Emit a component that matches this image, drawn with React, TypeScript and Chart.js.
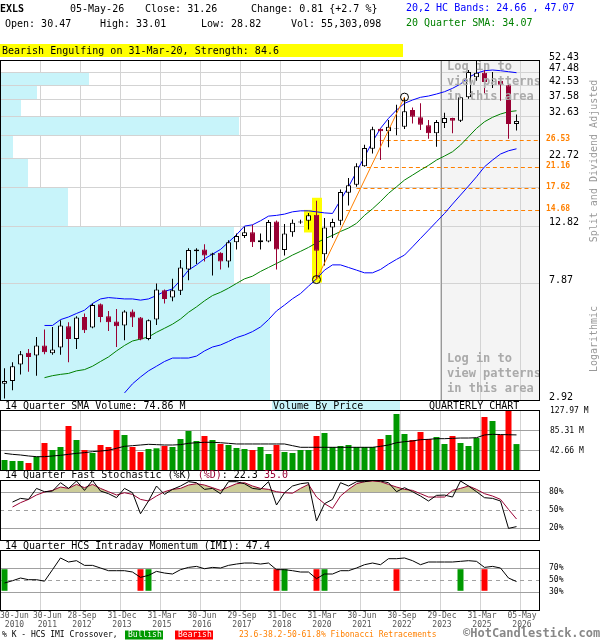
import { useEffect, useRef } from 'react';
import { Chart, registerables } from 'chart.js';

Chart.register(...registerables);

const MONO = '"DejaVu Sans Mono", "Liberation Mono", monospace';
const MAROON = '#990033';
const ORANGE = '#ff8000';
const GRID = '#d3d3d3';
const MIDGRID = '#a0a0a0';
const UP_VOL = '#009900';
const DOWN_VOL = '#ff0000';

// Quarterly bars for EXLS, index 0 = 30-Jun-2010 ... index 64 = 05-May-2026
const qOpen = [
  3.35, 3.43, 3.95, 4.36, 4.26, 4.64, 4.34, 4.56, 5.46, 4.9,
  5.91, 5.4, 6.59, 5.95, 5.69, 5.5, 6.19, 5.88, 4.9, 5.78,
  7.42, 6.97, 7.38, 8.85, 10.32, 10.49, 10.02, 10.19, 9.47, 11.16,
  11.75, 12.15, 11.16, 11.23, 13.31, 10.43, 12.15, 13.2, 13.38, 14.08,
  10.08, 12.65, 13.38, 16.97, 18.17, 21.28, 24.67, 29.24, 28.6, 29.3,
  29.75, 34.28, 32.22, 30.1, 28.12, 30.7, 32.03, 31.3, 38.19, 45.27,
  47.05, 43.9, 44.0, 42.28, 30.47,
];
const qHigh = [
  3.82, 4.02, 4.43, 4.5, 4.99, 5.31, 5.43, 5.75, 5.65, 5.95,
  6.09, 6.63, 6.63, 6.22, 6.33, 6.26, 6.3, 5.91, 5.78, 7.86,
  7.47, 8.17, 9.58, 10.6, 10.6, 10.97, 10.19, 10.25, 11.35, 12.02,
  12.71, 12.93, 12.02, 13.46, 13.4, 13.01, 13.54, 13.5, 14.31, 15.86,
  13.69, 13.61, 17.47, 19.23, 21.79, 25.52, 29.75, 29.3, 31.48, 35.86,
  38.25, 35.0, 36.28, 31.48, 31.48, 33.5, 32.1, 38.4, 48.16, 52.0,
  48.16, 47.35, 44.1, 43.0, 33.01,
];
const qLow = [
  2.96, 3.17, 3.63, 3.71, 3.59, 4.31, 4.29, 4.29, 4.02, 4.5,
  5.16, 5.37, 5.65, 5.25, 4.58, 4.85, 5.43, 4.85, 4.85, 5.52,
  6.63, 6.75, 7.13, 8.08, 9.26, 9.47, 8.41, 8.85, 9.0, 10.49,
  11.55, 10.72, 10.49, 11.16, 8.85, 9.97, 11.68, 13.05, 12.43, 8.12,
  9.16, 11.55, 12.87, 15.25, 17.86, 21.17, 23.72, 22.41, 24.97, 27.65,
  29.2, 30.6, 28.92, 26.86, 25.09, 29.42, 28.12, 30.95, 37.73, 43.97,
  39.5, 41.32, 37.1, 26.86, 28.82,
];
const qClose = [
  3.43, 3.89, 4.31, 4.21, 4.64, 4.38, 4.48, 5.5, 4.9, 5.88,
  5.28, 6.55, 5.91, 5.65, 5.46, 6.19, 5.88, 4.88, 5.75, 7.47,
  6.89, 7.42, 9.0, 10.43, 10.49, 9.97, 10.14, 9.47, 11.16, 11.75,
  12.15, 11.16, 11.35, 13.23, 10.49, 12.02, 13.15, 13.3, 14.01, 10.37,
  12.65, 13.23, 17.08, 18.08, 21.28, 24.82, 29.09, 28.6, 29.75, 29.45,
  33.9, 32.38, 30.25, 28.12, 30.95, 32.03, 31.3, 38.19, 47.35, 47.05,
  43.48, 44.0, 42.5, 30.45, 31.26,
];

// 20,2 HC bands and 20 quarter SMA
const hcUpper = [
  null, null, null, null, null, 5.5, 5.5, 5.78, 5.91, 6.09,
  6.26, 6.63, 6.89, 6.97, 6.93, 6.89, 6.89, 6.82, 6.89, 7.09,
  7.34, 7.5, 8.08, 8.8, 9.2, 9.69, 10.08, 10.49, 11.16, 11.88,
  12.79, 12.93, 13.38, 13.92, 14.01, 14.16, 14.44, 14.56, 14.56, 14.44,
  14.31, 14.24, 15.95, 17.86, 20.29, 23.05, 26.18, 29.33, 31.94, 34.28,
  36.28, 37.32, 38.19, 38.61, 39.27, 40.05, 41.21, 42.75, 45.27, 46.82,
  47.87, 48.16, 47.87, 47.47, 47.07,
];
const hcLower = [
  null, null, null, null, null, null, null, null, null, null,
  null, null, null, null, null, 3.1, 3.35, 3.55, 3.74, 3.89,
  4.05, 4.17, 4.17, 4.17, 4.24, 4.43, 4.58, 4.66, 4.8, 4.96,
  5.07, 5.22, 5.43, 5.78, 6.22, 6.54, 6.9, 7.21, 7.68, 8.17,
  8.8, 9.2, 9.2, 9.0, 8.8, 8.6, 8.6, 8.85, 9.26, 9.64,
  10.0, 10.72, 11.52, 12.36, 13.27, 14.24, 15.42, 16.65, 17.97, 19.44,
  21.17, 22.41, 23.59, 24.25, 24.66,
];
const sma20 = [
  null, null, null, null, null, 3.53, 3.59, 3.63, 3.66, 3.74,
  3.78, 3.89, 4.05, 4.21, 4.43, 4.64, 4.82, 4.9, 4.99, 5.19,
  5.37, 5.56, 5.81, 6.15, 6.44, 6.78, 7.09, 7.29, 7.55, 7.86,
  8.17, 8.36, 8.7, 9.0, 9.31, 9.64, 10.0, 10.32, 10.67, 11.09,
  11.48, 11.82, 12.22, 12.58, 13.09, 14.01, 14.81, 15.77, 16.89, 17.86,
  18.91, 19.72, 20.58, 21.42, 22.41, 23.19, 24.05, 25.45, 27.32, 29.33,
  31.03, 32.22, 33.13, 33.79, 34.07,
];

// volume in millions of shares, with 14 quarter SMA
const volume = [
  21.3, 19.2, 19.2, 14.9, 28.4, 57.6, 42.7, 49.1, 93.9, 64.0,
  42.7, 36.3, 53.3, 49.1, 85.3, 74.7, 49.1, 38.4, 44.8, 46.3,
  51.2, 49.1, 66.1, 83.2, 61.9, 72.5, 64.0, 55.5, 53.3, 46.9,
  44.8, 42.7, 49.1, 34.1, 53.3, 38.4, 36.3, 42.7, 42.7, 72.5,
  78.9, 49.1, 51.2, 53.3, 49.1, 49.1, 49.1, 66.1, 74.7, 119.5,
  76.8, 64.0, 81.1, 66.1, 70.4, 55.5, 72.5, 57.6, 51.2, 68.3,
  113.1, 104.5, 74.7, 127.97, 55.303098,
];
const volSma14 = [
  35.5, 33.4, 32.0, 29.9, 28.4, 28.4, 29.9, 31.3, 33.4, 35.5,
  37.0, 39.1, 40.5, 42.0, 46.3, 50.5, 51.9, 53.3, 54.8, 54.1,
  53.3, 53.3, 54.1, 56.9, 58.2, 59.1, 59.1, 58.2, 56.9, 55.5,
  55.5, 55.5, 55.5, 55.5, 55.5, 55.5, 51.9, 48.4, 48.4, 48.4,
  48.4, 48.4, 48.4, 48.4, 48.4, 48.4, 48.4, 50.5, 53.3, 58.2,
  60.4, 61.9, 64.6, 65.4, 66.8, 66.8, 67.5, 68.2, 68.2, 68.9,
  74.7, 76.1, 75.6, 75.2, 74.86,
];
const volTicks = [42.66, 85.31, 127.97];

// 14 quarter fast stochastic
const stochK = [
  null, 63.3, 69.4, 67.7, 86.0, 80.5, 81.6, 95.5, 86.0, 98.3,
  82.7, 99.3, 81.6, 77.2, 70.5, 86.0, 78.8, 43.8, 65.0, 90.0,
  76.0, 84.4, 90.0, 97.2, 95.5, 84.4, 86.0, 77.2, 97.2, 97.2,
  93.8, 86.0, 84.4, 97.2, 58.3, 78.8, 90.0, 93.8, 95.5, 31.7,
  60.5, 67.7, 95.5, 90.0, 97.2, 97.2, 99.3, 98.3, 95.5, 80.5,
  87.2, 80.5, 73.3, 65.0, 74.4, 74.9, 71.6, 98.3, 90.0, 80.5,
  70.5, 69.4, 65.0, 19.4, 22.3,
];
const stochD = [
  null, 55.0, 62.2, 67.7, 75.0, 80.0, 82.7, 88.3, 86.0, 92.7,
  87.2, 92.7, 86.0, 80.5, 75.0, 78.8, 76.0, 67.7, 65.0, 73.3,
  80.5, 84.4, 86.0, 91.6, 93.8, 91.6, 87.2, 82.7, 88.3, 93.8,
  95.5, 90.0, 86.0, 84.4, 80.5, 78.8, 78.0, 86.0, 92.7, 71.6,
  60.5, 52.7, 73.3, 84.4, 93.8, 97.2, 98.3, 97.2, 92.7, 88.3,
  84.4, 82.7, 77.2, 71.6, 71.6, 71.6, 82.7, 86.0, 90.0, 84.4,
  77.2, 73.3, 67.7, 51.0, 35.0,
];

// 14 quarter HCS intraday momentum
const imi = [
  45.0, 48.8, 53.3, 50.5, 50.5, 48.0, 67.2, 86.7, 80.0, 82.2,
  74.4, 74.4, 70.0, 65.5, 65.5, 65.5, 63.3, 54.4, 57.7, 64.4,
  61.6, 60.0, 67.2, 71.0, 72.7, 68.8, 71.0, 70.0, 74.4, 76.6,
  78.3, 78.3, 76.6, 78.3, 67.2, 67.2, 65.5, 63.3, 63.3, 52.2,
  60.0, 60.0, 65.5, 65.5, 70.0, 75.5, 78.3, 75.5, 85.5, 85.5,
  86.7, 82.2, 75.5, 80.0, 80.0, 80.0, 80.0, 81.1, 82.2, 81.1,
  71.0, 72.7, 70.0, 53.3, 47.4,
];
const bullishIdx = [0, 18, 35, 40, 57];
const bearishIdx = [17, 34, 39, 49, 60];
const signalSpan = [32, 68];

// date axis
const tickIdx = [0, 4, 9, 14, 19, 24, 29, 34, 39, 44, 49, 54, 59, 64];
const tickDay = ['30-Jun', '30-Jun', '28-Sep', '31-Dec', '31-Mar', '30-Jun', '29-Sep',
  '31-Dec', '31-Mar', '30-Jun', '30-Sep', '29-Dec', '31-Mar', '05-May'];
const tickYear = ['2010', '2011', '2012', '2013', '2015', '2016', '2017',
  '2018', '2020', '2021', '2022', '2023', '2025', '2026'];

// price axis (log), volume by price zones between price ticks (bottom to top)
const priceTicks = [2.92, 7.87, 12.82, 17.77, 22.72, 27.67, 32.63, 37.58, 42.53, 47.48, 52.43];
const priceLabels = ['2.92', '7.87', '12.82', '', '22.72', '', '32.63', '37.58', '42.53', '47.48', '52.43'];
const vbpVolume = [272, 236, 68, 28, 13, 241, 21, 37, 90, 0];

// patterns and fibonacci
const patternIdx = [38, 39];
const swingLowIdx = 39;
const swingHighIdx = 50;
const fibLevels = [26.53, 21.16, 17.62, 14.68];
const loginFromIdx = 54.5;

const X_MIN = -0.5625;
const X_MAX = 66.9375;
const GRID_SHIFT = 0.4375;
const last = qClose.length - 1;

const candleUp = qClose.map((c, i) => c >= qOpen[i]);
const pts = (arr: (number | null)[]) => arr.map((v, i) => ({ x: i, y: v }));

function txt(ctx: any, s: string, x: number, y: number, font: string, color: string, align: CanvasTextAlign = 'left') {
  ctx.font = font;
  ctx.fillStyle = color;
  ctx.textAlign = align;
  ctx.textBaseline = 'middle';
  ctx.fillText(s, x, y);
}

function hline(ctx: any, x0: number, x1: number, y: number, color: string, dash: number[] = []) {
  const py = Math.round(y) + 0.5;
  ctx.save();
  ctx.strokeStyle = color;
  ctx.lineWidth = 1;
  ctx.setLineDash(dash);
  ctx.beginPath();
  ctx.moveTo(x0, py);
  ctx.lineTo(x1, py);
  ctx.stroke();
  ctx.restore();
}

function vgrid(chart: any) {
  const { ctx, chartArea: a, scales } = chart;
  ctx.save();
  ctx.strokeStyle = GRID;
  ctx.lineWidth = 1;
  tickIdx.slice(1).forEach((t) => {
    const px = Math.round(scales.x.getPixelForValue(t + GRID_SHIFT)) + 0.5;
    ctx.beginPath();
    ctx.moveTo(px, a.top);
    ctx.lineTo(px, a.bottom);
    ctx.stroke();
  });
  ctx.restore();
}

function frame(chart: any) {
  const { ctx, chartArea: a } = chart;
  ctx.save();
  ctx.strokeStyle = '#000';
  ctx.lineWidth = 1;
  ctx.strokeRect(Math.round(a.left) + 0.5, Math.round(a.top) + 0.5,
    Math.round(a.right - a.left) - 1, Math.round(a.bottom - a.top));
  ctx.restore();
}

function segments(ctx: any, parts: [string, string][], x: number, y: number, font: string) {
  let cx = x;
  parts.forEach(([s, color]) => {
    txt(ctx, s, cx, y, font, color);
    cx += ctx.measureText(s).width;
  });
}

const baseOptions = (padding: any) => ({
  responsive: false,
  animation: false as const,
  events: [],
  layout: { padding: { left: 0, right: 60, ...padding } },
  plugins: { legend: { display: false }, tooltip: { enabled: false } },
});

const xScale = { type: 'linear', min: X_MIN, max: X_MAX, offset: false, grid: { offset: false }, display: false };

const mainPlugin = {
  id: 'mainDecor',
  beforeDatasetsDraw(chart: any) {
    const { ctx, chartArea: a, scales } = chart;
    const { x, y, xv } = scales;
    const lx = Math.round(x.getPixelForValue(loginFromIdx));
    ctx.save();
    ctx.fillStyle = '#f4f4f4';
    ctx.fillRect(lx, a.top, a.right - lx, a.bottom - a.top);
    vgrid(chart);
    priceTicks.forEach((p) => hline(ctx, a.left, a.right, y.getPixelForValue(p), GRID));
    ctx.fillStyle = '#999';
    ctx.fillRect(lx, a.top, 1, a.bottom - a.top);

    // volume by price
    ctx.fillStyle = '#c8f4fa';
    vbpVolume.forEach((v, k) => {
      if (!v) return;
      const yb = Math.round(y.getPixelForValue(priceTicks[k]));
      const yt = Math.round(y.getPixelForValue(priceTicks[k + 1])) + 1;
      ctx.fillRect(a.left, yt, Math.round(xv.getPixelForValue(v) - a.left), yb - yt);
    });

    // pattern highlight
    ctx.fillStyle = '#ffff00';
    patternIdx.forEach((i) => {
      const cx = x.getPixelForValue(i);
      const top = y.getPixelForValue(qHigh[i]) - 3;
      const bot = y.getPixelForValue(qLow[i]) + 3;
      ctx.fillRect(Math.round(cx - 5), top, 10, bot - top);
    });

    // fibonacci retracements from the trend line to the right edge
    const x0 = x.getPixelForValue(swingLowIdx);
    const y0 = y.getPixelForValue(qLow[swingLowIdx]);
    const x1 = x.getPixelForValue(swingHighIdx);
    const y1 = y.getPixelForValue(qHigh[swingHighIdx]);
    fibLevels.forEach((f) => {
      const py = y.getPixelForValue(f);
      const sx = x0 + ((py - y0) / (y1 - y0)) * (x1 - x0) - 4;
      hline(ctx, sx, a.right, py, ORANGE, [4, 3]);
    });
    ctx.restore();
  },
  afterDatasetsDraw(chart: any) {
    const { ctx, chartArea: a, scales } = chart;
    const { x, y } = scales;
    ctx.save();
    const x0 = x.getPixelForValue(swingLowIdx);
    const y0 = y.getPixelForValue(qLow[swingLowIdx]);
    const x1 = x.getPixelForValue(swingHighIdx);
    const y1 = y.getPixelForValue(qHigh[swingHighIdx]);
    ctx.strokeStyle = ORANGE;
    ctx.lineWidth = 1;
    ctx.beginPath();
    ctx.moveTo(x0, y0);
    ctx.lineTo(x1, y1);
    ctx.stroke();
    ctx.strokeStyle = '#000';
    [[x0, y0], [x1, y1]].forEach(([cx, cy]) => {
      ctx.beginPath();
      ctx.arc(cx, cy, 4, 0, Math.PI * 2);
      ctx.stroke();
    });

    const lx = Math.round(x.getPixelForValue(loginFromIdx)) + 6;
    const lines = ['Log in to', 'view patterns', 'in this area'];
    const f = `bold 12px ${MONO}`;
    lines.forEach((s, k) => {
      txt(ctx, s, lx, a.top + 7 + k * 15, f, '#aaaaaa');
      txt(ctx, s, lx, a.bottom - 41 + k * 15, f, '#aaaaaa');
    });
    ctx.restore();
    frame(chart);
  },
  afterDraw(chart: any) {
    const { ctx, chartArea: a, scales } = chart;
    const y = scales.y;
    const f10 = `10px ${MONO}`;
    ctx.save();
    priceTicks.forEach((p, k) => {
      if (priceLabels[k]) txt(ctx, priceLabels[k], a.right + 9, y.getPixelForValue(p) - 3, f10, '#000');
    });
    fibLevels.forEach((p) => txt(ctx, p.toFixed(2), a.right + 6, y.getPixelForValue(p) - 1, `bold 8px ${MONO}`, ORANGE));

    const rot = (s: string, cx: number, cy: number) => {
      ctx.save();
      ctx.translate(cx, cy);
      ctx.rotate(-Math.PI / 2);
      txt(ctx, s, 0, 0, f10, '#999999', 'center');
      ctx.restore();
    };
    rot('Split and Dividend Adjusted', 594, 161);
    rot('Logarithmic', 594, 339);

    // header
    const chg = qClose[last] - qClose[last - 1];
    const pct = (chg / qClose[last - 1]) * 100;
    const sign = chg >= 0 ? '+' : '';
    txt(ctx, 'EXLS', 0, 9, `bold 10px ${MONO}`, '#000');
    txt(ctx, '05-May-26', 70, 9, f10, '#000');
    txt(ctx, `Close: ${qClose[last].toFixed(2)}`, 145, 9, f10, '#000');
    txt(ctx, `Change: ${chg.toFixed(2)} {${sign}${pct.toFixed(1)} %}`, 251, 9, f10, '#000');
    txt(ctx, `Open: ${qOpen[last].toFixed(2)}`, 5, 24, f10, '#000');
    txt(ctx, `High: ${qHigh[last].toFixed(2)}`, 100, 24, f10, '#000');
    txt(ctx, `Low: ${qLow[last].toFixed(2)}`, 201, 24, f10, '#000');
    txt(ctx, `Vol: ${Math.round(volume[last] * 1e6).toLocaleString('en-US')}`, 291, 24, f10, '#000');
    txt(ctx, `20,2 HC Bands: ${hcLower[last]!.toFixed(2)} , ${hcUpper[last]!.toFixed(2)}`, 406, 8, f10, '#0000ff');
    txt(ctx, `20 Quarter SMA: ${sma20[last]!.toFixed(2)}`, 406, 23, f10, '#008000');
    ctx.fillStyle = '#ffff00';
    ctx.fillRect(0, 44, 403, 13);
    txt(ctx, 'Bearish Engulfing on 31-Mar-20, Strength: 84.6', 2, 51, f10, '#000');
    ctx.restore();
  },
};

const volPlugin = {
  id: 'volDecor',
  beforeDatasetsDraw(chart: any) {
    const { ctx, chartArea: a, scales } = chart;
    vgrid(chart);
    volTicks.slice(0, 2).forEach((v) => hline(ctx, a.left, a.right, scales.y.getPixelForValue(v), MIDGRID));
  },
  afterDraw(chart: any) {
    const { ctx, chartArea: a, scales } = chart;
    frame(chart);
    ctx.save();
    volTicks.forEach((v) => txt(ctx, `${v.toFixed(2)} M`, a.right + 10, scales.y.getPixelForValue(v) + 1, `8px ${MONO}`, '#000'));
    const ty = a.top - 3.5;
    txt(ctx, `14 Quarter SMA Volume: ${volSma14[last].toFixed(2)} M`, 5, ty, `10px ${MONO}`, '#000');
    ctx.fillStyle = '#c8f4fa';
    ctx.fillRect(272, a.top - 9, 128, 9);
    txt(ctx, 'Volume By Price', 273, ty, `10px ${MONO}`, '#000');
    txt(ctx, 'QUARTERLY CHART', 429, ty, `10px ${MONO}`, '#000');
    ctx.restore();
  },
};

const stochPlugin = {
  id: 'stochDecor',
  beforeDatasetsDraw(chart: any) {
    const { ctx, chartArea: a, scales } = chart;
    vgrid(chart);
    hline(ctx, a.left, a.right, scales.y.getPixelForValue(80), MIDGRID);
    hline(ctx, a.left, a.right, scales.y.getPixelForValue(50), MIDGRID, [4, 4]);
    hline(ctx, a.left, a.right, scales.y.getPixelForValue(20), MIDGRID);
  },
  afterDraw(chart: any) {
    const { ctx, chartArea: a, scales } = chart;
    frame(chart);
    ctx.save();
    [80, 50, 20].forEach((v) => txt(ctx, `${v}%`, a.right + 9, scales.y.getPixelForValue(v), `8px ${MONO}`, '#000'));
    segments(ctx, [
      ['14 Quarter Fast Stochastic (%K) ', '#000'],
      ['(%D)', MAROON],
      [`: ${stochK[last]!.toFixed(1)} `, '#000'],
      [stochD[last]!.toFixed(1), MAROON],
    ], 5, a.top - 5, `10px ${MONO}`);
    ctx.restore();
  },
};

const imiPlugin = {
  id: 'imiDecor',
  beforeDatasetsDraw(chart: any) {
    const { ctx, chartArea: a, scales } = chart;
    vgrid(chart);
    hline(ctx, a.left, a.right, scales.y.getPixelForValue(70), MIDGRID);
    hline(ctx, a.left, a.right, scales.y.getPixelForValue(50), MIDGRID, [4, 4]);
    hline(ctx, a.left, a.right, scales.y.getPixelForValue(30), MIDGRID);
  },
  afterDraw(chart: any) {
    const { ctx, chartArea: a, scales } = chart;
    frame(chart);
    ctx.save();
    [70, 50, 30].forEach((v) => txt(ctx, `${v}%`, a.right + 9, scales.y.getPixelForValue(v), `8px ${MONO}`, '#000'));
    txt(ctx, `14 Quarter HCS Intraday Momentum (IMI): ${imi[last].toFixed(1)}`, 5, a.top - 4, `10px ${MONO}`, '#000');

    // date labels, pushed right when they would overlap
    const f8 = `8px ${MONO}`;
    ctx.font = f8;
    let prevRight = -Infinity;
    tickIdx.forEach((t, k) => {
      const w = Math.max(ctx.measureText(tickDay[k]).width, ctx.measureText(tickYear[k]).width);
      let cx = scales.x.getPixelForValue(t + GRID_SHIFT) + 2;
      cx = Math.max(cx, a.left + w / 2, prevRight + 4 + w / 2);
      prevRight = cx + w / 2;
      txt(ctx, tickDay[k], cx, a.bottom + 6, f8, '#555', 'center');
      txt(ctx, tickYear[k], cx, a.bottom + 15, f8, '#555', 'center');
    });

    // legend row
    const ly = a.bottom + 25;
    txt(ctx, '% K - HCS IMI Crossover, ', 2, ly, `8px ${MONO}`, '#000');
    ctx.fillStyle = UP_VOL;
    ctx.fillRect(125, ly - 4.5, 38, 9);
    txt(ctx, 'Bullish', 128, ly, f8, '#fff');
    ctx.fillStyle = DOWN_VOL;
    ctx.fillRect(175, ly - 4.5, 38, 9);
    txt(ctx, 'Bearish', 178, ly, f8, '#fff');
    txt(ctx, '23.6-38.2-50-61.8% Fibonacci Retracements', 239, ly, f8, ORANGE);
    txt(ctx, '\u00a9HotCandlestick.com', 463, ly - 1, `bold 12px ${MONO}`, '#888888');
    ctx.restore();
  },
};

function mainConfig(): any {
  return {
    type: 'bar',
    data: {
      datasets: [
        {
          type: 'bar',
          data: qOpen.map((o, i) => ({ x: i, y: [Math.min(o, qClose[i]), Math.max(o, qClose[i])] })),
          backgroundColor: candleUp.map((u) => (u ? '#ffffff' : MAROON)),
          borderColor: candleUp.map((u) => (u ? '#000000' : MAROON)),
          borderWidth: 1,
          borderSkipped: false,
          barThickness: 5,
          inflateAmount: 0,
          grouped: false,
          order: 0,
        },
        {
          type: 'bar',
          data: qHigh.map((h, i) => ({ x: i, y: [qLow[i], h] })),
          backgroundColor: candleUp.map((u) => (u ? '#000000' : MAROON)),
          borderWidth: 0,
          barThickness: 1,
          inflateAmount: 0,
          grouped: false,
          order: 1,
        },
        { type: 'line', data: pts(sma20), borderColor: '#008000', borderWidth: 1, pointRadius: 0, order: 2 },
        { type: 'line', data: pts(hcUpper), borderColor: '#0000ff', borderWidth: 1, pointRadius: 0, order: 2 },
        { type: 'line', data: pts(hcLower), borderColor: '#0000ff', borderWidth: 1, pointRadius: 0, order: 2 },
      ],
    },
    options: {
      ...baseOptions({ top: 60, bottom: 240 }),
      scales: {
        x: xScale,
        xv: {
          type: 'linear', axis: 'x', min: 0, max: Math.max(...vbpVolume) * 2,
          offset: false, grid: { offset: false }, display: false,
        },
        y: { type: 'logarithmic', min: priceTicks[0], max: priceTicks[priceTicks.length - 1], display: false },
      },
    },
    plugins: [mainPlugin],
  };
}

function volConfig(): any {
  return {
    type: 'bar',
    data: {
      datasets: [
        { type: 'line', data: pts(volSma14), borderColor: '#000', borderWidth: 1, pointRadius: 0, order: 0 },
        {
          type: 'bar',
          data: pts(volume),
          backgroundColor: candleUp.map((u) => (u ? UP_VOL : DOWN_VOL)),
          barThickness: 6,
          inflateAmount: 0,
          order: 1,
        },
      ],
    },
    options: {
      ...baseOptions({ top: 410, bottom: 170 }),
      scales: { x: xScale, y: { type: 'linear', min: 0, max: volTicks[2], display: false } },
    },
    plugins: [volPlugin],
  };
}

function stochConfig(): any {
  return {
    type: 'line',
    data: {
      datasets: [
        { data: pts(stochK), borderColor: '#000', borderWidth: 1, pointRadius: 0, order: 0 },
        {
          data: pts(stochD),
          borderColor: MAROON,
          borderWidth: 1,
          pointRadius: 0,
          order: 1,
          fill: { target: { value: 80 }, above: '#cccc99', below: 'rgba(0,0,0,0)' },
        },
      ],
    },
    options: {
      ...baseOptions({ top: 480, bottom: 100 }),
      scales: { x: xScale, y: { type: 'linear', min: 0, max: 100, display: false } },
    },
    plugins: [stochPlugin],
  };
}

function imiConfig(): any {
  const signals = [...bullishIdx, ...bearishIdx];
  return {
    type: 'bar',
    data: {
      datasets: [
        { type: 'line', data: pts(imi), borderColor: '#000', borderWidth: 1, pointRadius: 0, order: 0 },
        {
          type: 'bar',
          data: signals.map((i) => ({ x: i, y: signalSpan })),
          backgroundColor: signals.map((i) => (bullishIdx.includes(i) ? UP_VOL : DOWN_VOL)),
          barThickness: 6,
          inflateAmount: 0,
          order: 1,
        },
      ],
    },
    options: {
      ...baseOptions({ top: 550, bottom: 30 }),
      scales: { x: xScale, y: { type: 'linear', min: 0, max: 100, display: false } },
    },
    plugins: [imiPlugin],
  };
}

export default function App() {
  const mainRef = useRef<HTMLCanvasElement>(null);
  const volRef = useRef<HTMLCanvasElement>(null);
  const stochRef = useRef<HTMLCanvasElement>(null);
  const imiRef = useRef<HTMLCanvasElement>(null);

  useEffect(() => {
    const charts: Chart[] = [];
    const make = (el: HTMLCanvasElement | null, cfg: any) => {
      if (el) charts.push(new Chart(el, cfg));
    };
    make(mainRef.current, mainConfig());
    make(volRef.current, volConfig());
    make(stochRef.current, stochConfig());
    make(imiRef.current, imiConfig());
    return () => charts.forEach((c) => c.destroy());
  }, []);

  const layer: React.CSSProperties = { position: 'absolute', left: 0, top: 0, width: 600, height: 640 };
  return (
    <div style={{ position: 'fixed', left: 0, top: 0, width: 600, height: 640, background: '#fff' }}>
      <canvas ref={mainRef} width={600} height={640} style={layer} />
      <canvas ref={volRef} width={600} height={640} style={layer} />
      <canvas ref={stochRef} width={600} height={640} style={layer} />
      <canvas ref={imiRef} width={600} height={640} style={layer} />
    </div>
  );
}
